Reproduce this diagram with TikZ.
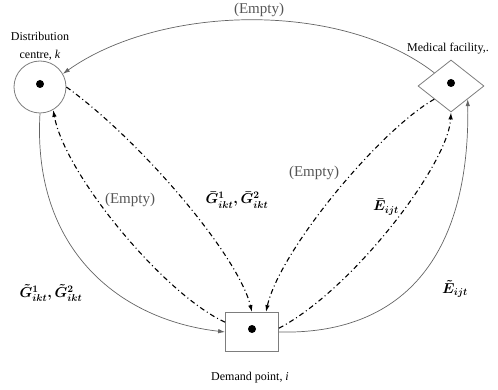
\documentclass[tikz,border=0pt]{standalone}
\usepackage{fontspec}
\setmainfont{Liberation Serif}
\usepackage{tikz}
\usetikzlibrary{shapes.geometric,arrows.meta}
\definecolor{EdgeGray}{RGB}{125,125,125}
\definecolor{LabelGray}{RGB}{85,85,85}

\tikzset{
  site/.style={draw=EdgeGray, line width=0.8pt, inner sep=0pt},
  flow/.style={line width=0.7pt, draw=EdgeGray!80!black, -{Latex[length=7pt,width=4.5pt]}},
  trip/.style={line width=1.1pt, dash pattern=on 5pt off 3pt on 1pt off 3pt, -{Latex[length=7pt,width=4.5pt]}},
  namelabel/.style={font=\fontsize{12}{18}\selectfont, align=center, inner sep=0pt},
  emptylabel/.style={text=LabelGray, font=\fontsize{15}{15}\selectfont, inner sep=0pt},
  qtylabel/.style={font=\fontsize{14}{14}\selectfont\boldmath, inner sep=0pt}
}

\begin{document}
\begin{tikzpicture}[x=1pt, y=-1pt]
  \useasboundingbox (0,0) rectangle (498,390);

  % Sites
  \node[site, circle, minimum size=52pt] (dc) at (40,87) {};
  \node[site, diamond, minimum width=66pt, minimum height=52pt] (mf) at (451,86) {};
  \node[site, rectangle, minimum width=53pt, minimum height=39pt] (dp) at (252,332) {};
  \foreach \n in {dc, mf, dp} {
    \fill (\n.center) ++(0,-3) circle (4pt);
  }

  % Site names
  \node[namelabel] (dcname) at (40,46) {Distribution\\centre, \textit{k}};
  \node[namelabel, anchor=base west] (mfname) at (407,52) {Medical facility,.};
  \node[namelabel, anchor=base] (dpname) at (250,380) {Demand point, \textit{i}};

  % Solid flows
  \draw[flow] (mf.north west) .. controls (340,0) and (160,5) .. (dc.30);
  \draw[flow] (dc.south) .. controls (32,250) and (120,320) .. (dp.west);
  \draw[flow] (dp.east) .. controls (400,335) and (470,260) .. (mf.south east);

  % Dash-dot trips
  \draw[trip] (dc.0) .. controls (140,140) and (238,255) .. (dp.north);
  \draw[trip] (dp.160) .. controls (165,295) and (65,175) .. (dc.300);
  \draw[trip] (mf.south west) .. controls (380,130) and (280,250) .. (dp.55);
  \draw[trip] (dp.8) .. controls (352,290) and (448,165) .. (mf.south);

  % Labels
  \node[emptylabel] (emptytop) at (259,10) {(Empty)};
  \node[emptylabel] (emptyleft) at (130,200) {(Empty)};
  \node[emptylabel] (emptymid) at (314,173) {(Empty)};
  \node[qtylabel] (gbar) at (237,200) {$\bar{G}^1_{ikt},\bar{G}^2_{ikt}$};
  \node[qtylabel] (ebar) at (386,207) {$\bar{E}_{ijt}$};
  \node[qtylabel] (gtilde) at (51,293) {$\tilde{G}^1_{ikt},\tilde{G}^2_{ikt}$};
  \node[qtylabel] (etilde) at (455,289) {$\tilde{E}_{ijt}$};
\end{tikzpicture}
\end{document}
